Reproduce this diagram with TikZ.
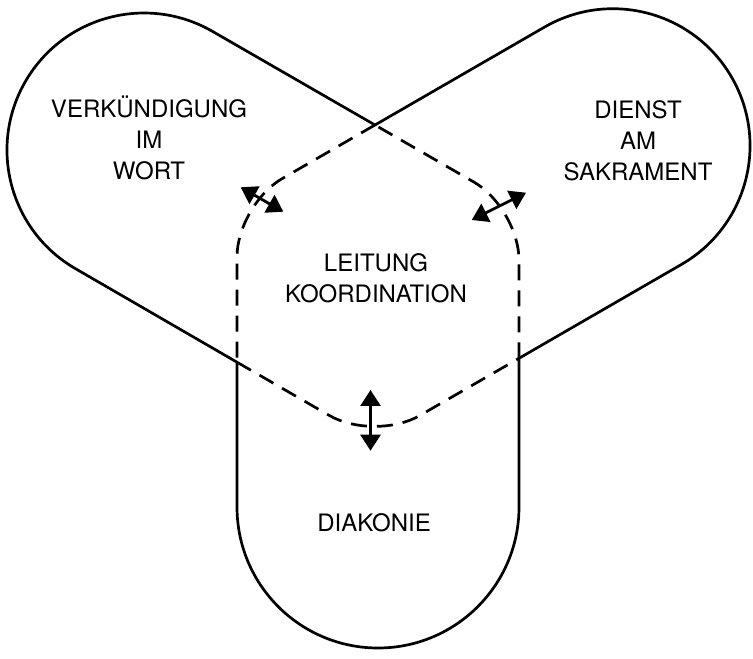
\documentclass[tikz,border=0pt]{standalone}
\usepackage{fontspec}
\setmainfont{TeX Gyre Heros}
\usepackage{tikz}
\usetikzlibrary{arrows.meta}

\tikzset{
  outline/.style={line width=1.35pt, line join=round},
  inner/.style={line width=1.35pt, dash pattern=on 8pt off 5pt, rounded corners=26pt},
  link/.style={line width=1.4pt, {Triangle[length=8pt,width=10pt]}-{Triangle[length=8pt,width=10pt]}},
  area/.style={align=center, inner sep=0pt, font=\fontsize{12}{15.5}\selectfont}
}

\begin{document}
\begin{tikzpicture}[x=0.5pt, y=0.5pt]
  \useasboundingbox (0,0) rectangle (753,658);

  \coordinate (top) at (375,533);
  \coordinate (lx) at (237,295.8);
  \coordinate (rx) at (519,299.7);
  \coordinate (ul) at (237,453.3);
  \coordinate (ur) at (519,449.9);
  \coordinate (bv) at (374.6,216.4);

  % the three lobes
  \draw[outline] (top) -- (212.5,626.6) arc[start angle=60, end angle=240, radius=137]
    -- (lx) -- (237,151) arc[start angle=180, end angle=360, radius=141]
    -- (rx) -- (681.5,393.6) arc[start angle=-60, end angle=120, radius=137] -- cycle;

  % middle field
  \draw[inner] (top) -- (ul) -- (lx);
  \draw[inner] (lx) -- (bv) -- (rx);
  \draw[inner] (rx) -- (ur) -- (top);

  \node[area] (wort) at (149,520.5) {VERKÜNDIGUNG\\IM\\WORT};
  \node[area] (sakrament) at (638,517) {DIENST\\AM\\SAKRAMENT};
  \node[area] (leitung) at (376,380) {LEITUNG\\KOORDINATION};
  \node[area] (diakonie) at (374,135) {DIAKONIE};

  \coordinate (w1) at (240.7,470.7);
  \coordinate (w2) at (283.3,446.3);
  \coordinate (s1) at (471.7,438);
  \coordinate (s2) at (526,465.3);
  \coordinate (d1) at (370.5,268);
  \coordinate (d2) at (370.5,207.3);

  \draw[link] (w1) -- (w2);
  \draw[link] (s1) -- (s2);
  \draw[link] (d1) -- (d2);
\end{tikzpicture}
\end{document}
